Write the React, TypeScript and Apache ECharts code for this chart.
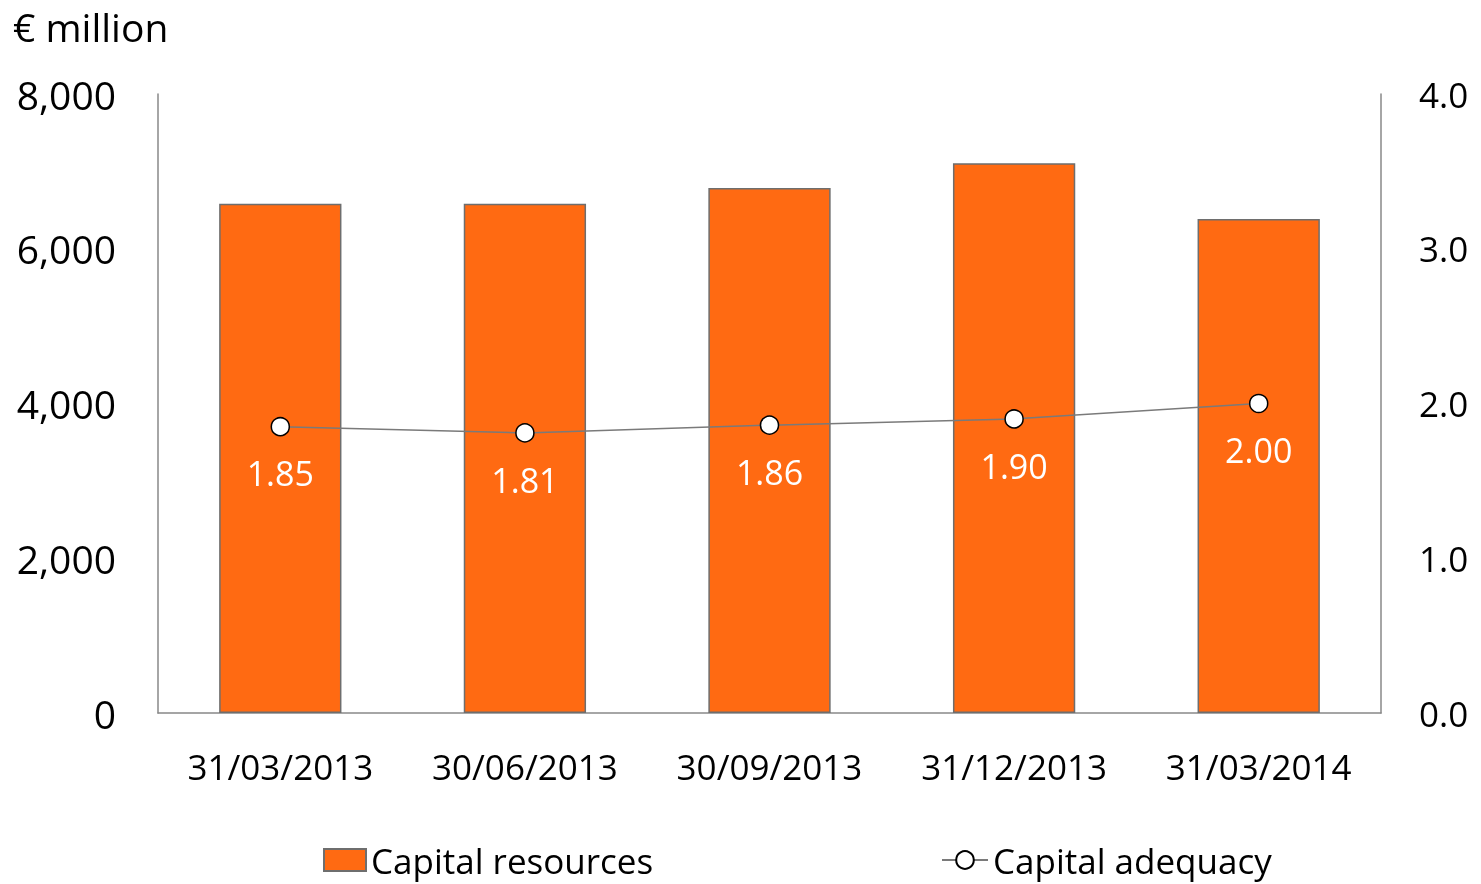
import React, { useEffect, useRef } from "react";
import * as echarts from "echarts";

const categories = ["31/03/2013", "30/06/2013", "30/09/2013", "31/12/2013", "31/03/2014"];
const capitalResources = [6580, 6580, 6785, 7105, 6385];
const capitalAdequacy = [1.85, 1.81, 1.86, 1.9, 2.0];

const FONT = "Open Sans";

export default function App() {
  const ref = useRef<HTMLDivElement>(null);
  useEffect(() => {
    if (!ref.current) return;
    const chart = echarts.init(ref.current, undefined, { renderer: "svg" });
    chart.setOption({
      animation: false,
      textStyle: { fontFamily: FONT },
      graphic: [
        {
          type: "text",
          left: 13,
          top: 7,
          style: { text: "€ million", font: `39px "${FONT}"`, fill: "#000" },
        },
      ],
      legend: [
        {
          data: [{ name: "Capital resources", icon: "rect" }],
          left: 318,
          top: 835,
          itemWidth: 42,
          itemHeight: 22,
          itemGap: 6,
          textStyle: { fontSize: 35, lineHeight: 40, color: "#000", fontFamily: FONT },
        },
        {
          data: [{ name: "Capital adequacy" }],
          left: 936,
          top: 835,
          itemWidth: 46,
          itemHeight: 22,
          textStyle: { fontSize: 35, lineHeight: 40, color: "#000", fontFamily: FONT },
        },
      ],
      grid: { left: 158, right: 100, top: 94, bottom: 171, containLabel: false },
      xAxis: {
        type: "category",
        data: categories,
        axisLine: { lineStyle: { color: "#888", width: 1.5 } },
        axisTick: { show: false },
        axisLabel: { fontSize: 35, color: "#000", fontFamily: FONT, margin: 36 },
      },
      yAxis: [
        {
          type: "value",
          min: 0,
          max: 8000,
          interval: 2000,
          axisLine: { show: true, lineStyle: { color: "#888", width: 1.5 } },
          axisTick: { show: false },
          splitLine: { show: false },
          axisLabel: {
            fontSize: 39,
            color: "#000",
            fontFamily: FONT,
            margin: 42,
            formatter: (v: number) => v.toLocaleString("en-US"),
          },
        },
        {
          type: "value",
          min: 0,
          max: 4,
          interval: 1,
          position: "right",
          axisLine: { show: true, lineStyle: { color: "#888", width: 1.5 } },
          axisTick: { show: false },
          splitLine: { show: false },
          axisLabel: {
            fontSize: 35,
            color: "#000",
            fontFamily: FONT,
            margin: 38,
            formatter: (v: number) => v.toFixed(1),
          },
        },
      ],
      series: [
        {
          name: "Capital resources",
          type: "bar",
          data: capitalResources,
          barWidth: "50%",
          itemStyle: { color: "#FF6A12", borderColor: "#6e6e6e", borderWidth: 1.5 },
        },
        {
          name: "Capital adequacy",
          type: "line",
          yAxisIndex: 1,
          data: capitalAdequacy,
          symbol: "circle",
          symbolSize: 18,
          lineStyle: { color: "#7a7a7a", width: 1.5 },
          itemStyle: { color: "#fff", borderColor: "#000", borderWidth: 1.5 },
          label: {
            show: true,
            position: "bottom",
            distance: 20,
            fontSize: 34,
            color: "#fff",
            fontFamily: FONT,
            formatter: (p: any) => p.value.toFixed(2),
          },
        },
      ],
    });
    return () => chart.dispose();
  }, []);
  return <div ref={ref} style={{ position: "fixed", left: 0, top: 0, width: 1481, height: 884 }} />;
}
